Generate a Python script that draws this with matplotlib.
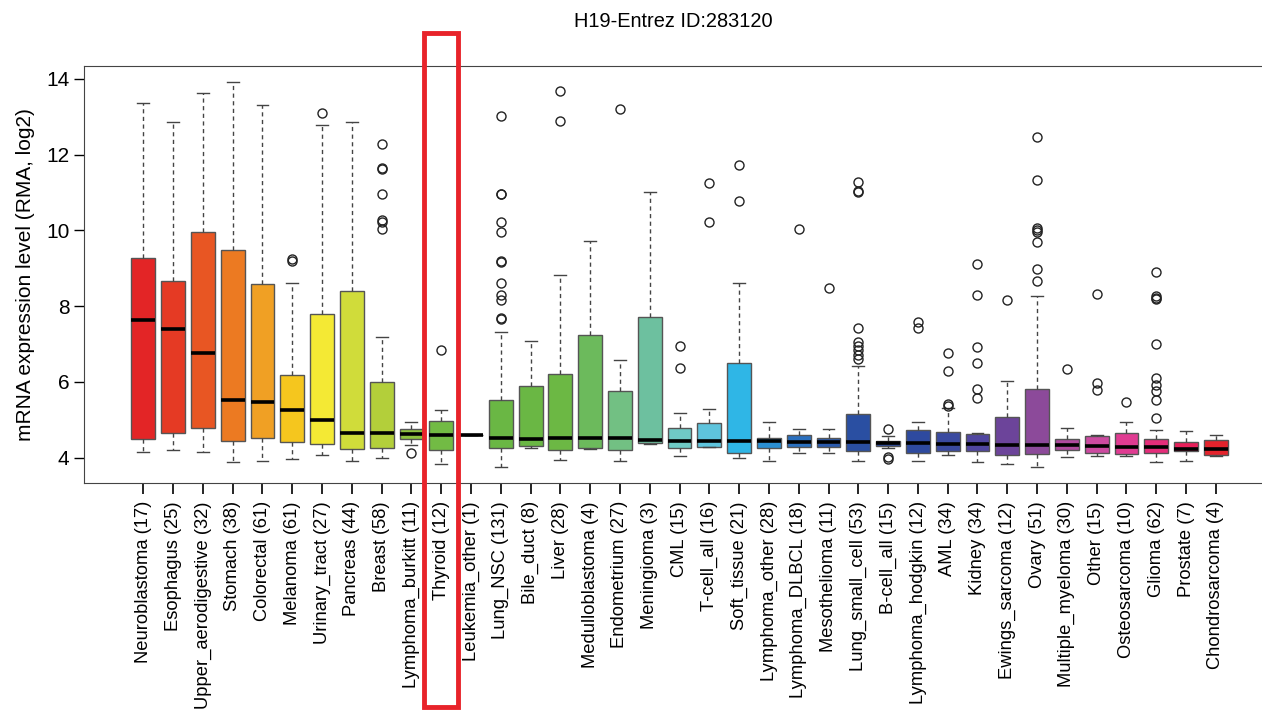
import numpy as np
import matplotlib
matplotlib.use('Agg')
import matplotlib.pyplot as plt
from matplotlib.patches import Rectangle
import matplotlib.transforms as mtransforms

plt.rcParams['font.family'] = ['Liberation Sans', 'DejaVu Sans']

# tissue types and sample counts
names = ['Neuroblastoma', 'Esophagus', 'Upper_aerodigestive', 'Stomach', 'Colorectal',
         'Melanoma', 'Urinary_tract', 'Pancreas', 'Breast', 'Lymphoma_burkitt',
         'Thyroid', 'Leukemia_other', 'Lung_NSC', 'Bile_duct', 'Liver',
         'Medulloblastoma', 'Endometrium', 'Meningioma', 'CML', 'T-cell_all',
         'Soft_tissue', 'Lymphoma_other', 'Lymphoma_DLBCL', 'Mesothelioma',
         'Lung_small_cell', 'B-cell_all', 'Lymphoma_hodgkin', 'AML', 'Kidney',
         'Ewings_sarcoma', 'Ovary', 'Multiple_myeloma', 'Other', 'Osteosarcoma',
         'Glioma', 'Prostate', 'Chondrosarcoma']
counts = [17, 25, 32, 38, 61, 61, 27, 44, 58, 11, 12, 1, 131, 8, 28, 4, 27, 3, 15, 16,
          21, 28, 18, 11, 53, 15, 12, 34, 34, 12, 51, 30, 15, 10, 62, 7, 4]

# box stats
whislo = [4.16, 4.20, 4.14, 3.89, 3.90, 3.96, 4.08, 3.90, 4.00, 4.32, 3.84, 4.61, 3.75,
          4.26, 3.95, 4.24, 3.90, 4.36, 4.03, 4.28, 3.98, 3.90, 4.13, 4.12, 3.91, 4.25,
          3.91, 4.07, 3.88, 3.82, 3.75, 4.01, 4.03, 4.04, 3.88, 3.92, 4.05]
q1 = [4.49, 4.66, 4.79, 4.45, 4.51, 4.42, 4.35, 4.23, 4.26, 4.49, 4.19, 4.61, 4.25,
      4.31, 4.21, 4.25, 4.20, 4.38, 4.25, 4.29, 4.13, 4.25, 4.29, 4.28, 4.18, 4.31,
      4.13, 4.18, 4.18, 4.06, 4.10, 4.20, 4.12, 4.10, 4.12, 4.18, 4.06]
med = [7.64, 7.40, 6.75, 5.51, 5.47, 5.26, 4.99, 4.65, 4.65, 4.63, 4.61, 4.61, 4.53,
       4.50, 4.51, 4.51, 4.51, 4.47, 4.44, 4.44, 4.44, 4.44, 4.41, 4.41, 4.40, 4.38,
       4.38, 4.35, 4.35, 4.34, 4.34, 4.34, 4.31, 4.29, 4.29, 4.22, 4.22]
q3 = [9.27, 8.67, 9.95, 9.48, 8.58, 6.18, 7.79, 8.41, 6.00, 4.75, 4.97, 4.61, 5.52,
      5.89, 6.20, 7.25, 5.76, 7.72, 4.77, 4.92, 6.49, 4.53, 4.59, 4.53, 5.15, 4.44,
      4.73, 4.67, 4.62, 5.07, 5.81, 4.50, 4.56, 4.64, 4.49, 4.42, 4.46]
whishi = [13.35, 12.85, 13.62, 13.93, 13.30, 8.60, 12.78, 12.86, 7.19, 4.93, 5.25, 4.61,
          7.31, 7.09, 8.83, 9.72, 6.58, 11.01, 5.19, 5.28, 8.62, 4.94, 4.76, 4.76, 6.41,
          4.56, 4.95, 5.32, 4.64, 6.01, 8.28, 4.77, 4.60, 4.93, 4.73, 4.70, 4.60]
outliers = [
    [], [], [], [], [],
    [9.24, 9.20],
    [13.09],
    [],
    [12.28, 11.65, 11.62, 10.96, 10.28, 10.21, 10.03],
    [4.13],
    [6.85],
    [],
    [13.02, 10.97, 10.95, 10.21, 9.97, 9.20, 9.17, 8.60, 8.30, 8.16, 7.69, 7.66],
    [],
    [13.69, 12.90],
    [],
    [13.21],
    [],
    [6.96, 6.37],
    [11.26, 10.22],
    [11.72, 10.78],
    [],
    [10.04],
    [8.48],
    [11.29, 11.05, 11.00, 7.41, 7.04, 6.95, 6.85, 6.70, 6.60],
    [4.75, 4.01, 3.96],
    [7.58, 7.42],
    [6.77, 6.30, 5.41, 5.37],
    [9.12, 8.29, 6.91, 6.50, 5.81, 5.58],
    [8.16],
    [12.47, 11.34, 10.05, 10.00, 9.95, 9.70, 8.99, 8.67],
    [6.35],
    [8.31, 5.97, 5.79],
    [5.47],
    [8.90, 8.27, 8.22, 8.18, 7.00, 6.10, 5.92, 5.75, 5.52, 5.04],
    [],
    [],
]
colors = ['#e32526', '#e53a24', '#e85623', '#ec7a22', '#f0a024', '#f5c61e', '#f4e934',
          '#d0dc3a', '#b3cf3a', '#8dc13f', '#72bb44', '#6ab844', '#6ab744', '#6ab744',
          '#6cb844', '#6cba5c', '#72c083', '#6dc09f', '#6fcac6', '#5ec4dd', '#2fb6e6',
          '#2b8fd2', '#2a70bf', '#2a5aad', '#2a4fa2', '#2a4a9e', '#2e4a9f', '#3a4aa0',
          '#5046a0', '#6c449a', '#8c4a9a', '#b04a9f', '#cc4aa0', '#e03c92', '#e52d7a',
          '#e81f5a', '#e4232c']
highlight = 'Thyroid'

labels = ['%s (%d)' % (n, c) for n, c in zip(names, counts)]
stats = []
for i in range(len(names)):
    stats.append({'whislo': whislo[i], 'q1': q1[i], 'med': med[i], 'q3': q3[i],
                  'whishi': whishi[i], 'fliers': outliers[i]})

fig = plt.figure(figsize=(12.62, 7.11), dpi=100)
ax = fig.add_axes([0.0666, 0.3207, 0.9334, 0.587])

pos = np.arange(1, len(names) + 1)
bp = ax.bxp(stats, positions=pos, widths=0.8, capwidths=0.4, patch_artist=True,
            boxprops=dict(edgecolor='#555555', linewidth=1.0),
            whiskerprops=dict(color='#444444', linestyle=(0, (3, 2.5)), linewidth=1.0),
            capprops=dict(color='#444444', linewidth=1.0),
            medianprops=dict(color='black', linewidth=2.6, solid_capstyle='butt'),
            flierprops=dict(marker='o', markerfacecolor='none', markeredgecolor='#222222',
                            markersize=6.5, markeredgewidth=1.0))
for patch, c in zip(bp['boxes'], colors):
    patch.set_facecolor(c)

ax.set_xlim(-0.99, 38.55)
ax.set_ylim(3.33, 14.35)
ax.set_xticks(pos)
ax.set_xticklabels(labels, rotation=90, fontsize=13.2)
ax.set_yticks([4, 6, 8, 10, 12, 14])
ax.tick_params(axis='y', labelsize=15, length=7, width=1, direction='out')
ax.tick_params(axis='x', length=8, width=1.2, direction='out', pad=5)
for s in ['left', 'top', 'bottom']:
    ax.spines[s].set_color('#444444')
ax.spines['right'].set_visible(False)
ax.set_ylabel('mRNA expression level (RMA, log2)', fontsize=15, labelpad=8)
ax.set_title('H19-Entrez ID:283120', fontsize=14.4, pad=28)

# red highlight box around the selected tissue
hx = names.index(highlight) + 1
trans = mtransforms.blended_transform_factory(ax.transData, fig.transFigure)
rect = Rectangle((hx - 0.57, 0.006), 1.14, 0.948, transform=trans, fill=False,
                 edgecolor='#e8232a', linewidth=3.5, clip_on=False)
fig.patches.append(rect)

fig.savefig('out.png', dpi=100)
